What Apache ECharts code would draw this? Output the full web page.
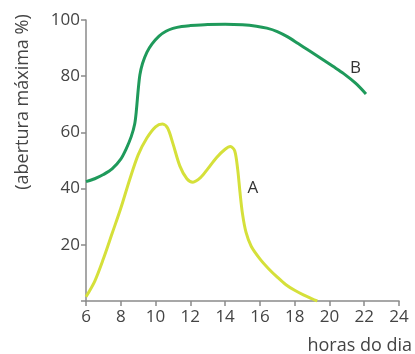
<!DOCTYPE html>
<html>
<head>
<meta charset="utf-8">
<script src="https://cdn.jsdelivr.net/npm/echarts@6/dist/echarts.min.js"></script>
<style>html,body{margin:0;padding:0;background:#fff}#c{width:415px;height:354px}</style>
</head>
<body>
<div id="c"></div>
<script>
// Curve B (green)
const hoursB = [6, 6.5, 7, 7.5, 8, 8.3, 8.6, 8.8, 8.9, 9.0, 9.1, 9.25, 9.5, 9.8, 10.2, 10.6, 11, 11.5, 12, 13, 14, 15, 15.8, 16.4, 17, 17.6, 18.2, 18.8, 19.5, 20.2, 20.8, 21.5, 22.1];
const valuesB = [42.5, 43.5, 45, 47, 50.5, 54, 58.5, 63, 68, 75, 80.5, 84.5, 88.5, 91.5, 94.3, 96, 97, 97.7, 98, 98.4, 98.5, 98.3, 97.8, 97.1, 95.9, 94, 91.6, 89.2, 86.4, 83.5, 81, 77.5, 73.7];
// Curve A (yellow)
const hoursA = [6, 6.5, 7, 7.5, 8, 8.5, 9, 9.5, 10, 10.4, 10.7, 11, 11.4, 11.8, 12.15, 12.6, 13, 13.5, 14, 14.3, 14.55, 14.72, 14.85, 15.0, 15.2, 15.5, 16, 16.5, 17, 17.5, 18, 18.5, 19, 19.3];
const valuesA = [1.5, 7, 15, 24, 33, 43, 52, 58, 62, 63, 61.5, 56, 48, 43.5, 42.3, 44, 47, 51, 54, 55, 53.5, 47, 39, 31, 24.5, 19.5, 15, 11.5, 8.5, 5.8, 3.8, 2.2, 0.8, 0];
const xTicks = [6, 24, 2];
const yTicks = [0, 100, 20];
const labelA = {text: 'A', x: 15.6, y: 40.2};
const labelB = {text: 'B', x: 21.5, y: 82.9};

const font = '"Open Sans", sans-serif';
const chart = echarts.init(document.getElementById('c'), null, {renderer: 'canvas'});
const pairs = (xs, ys) => xs.map((x, i) => [x, ys[i]]);
const mk = (l) => ({
  symbol: 'circle', symbolSize: 0,
  data: [{coord: [l.x, l.y], value: l.text}],
  label: {show: true, position: 'inside', formatter: l.text, color: '#333', fontSize: 17, fontFamily: font}
});
chart.setOption({
  animation: false,
  grid: {left: 86, right: 16, top: 20, bottom: 53, containLabel: false},
  xAxis: {
    type: 'value', min: xTicks[0], max: xTicks[1], interval: xTicks[2],
    axisLine: {show: true, lineStyle: {color: '#8a8a8a', width: 1.5}},
    axisTick: {show: true, length: 5, lineStyle: {color: '#8a8a8a', width: 1.5}},
    axisLabel: {color: '#444', fontSize: 17, fontFamily: font, margin: 8},
    splitLine: {show: false}
  },
  yAxis: {
    type: 'value', min: yTicks[0], max: yTicks[1], interval: yTicks[2],
    axisLine: {show: true, lineStyle: {color: '#8a8a8a', width: 1.5}},
    axisTick: {show: true, length: 5, lineStyle: {color: '#8a8a8a', width: 1.5}},
    axisLabel: {color: '#444', fontSize: 17, fontFamily: font, margin: 6,
      formatter: v => v === 0 ? '' : String(v)},
    splitLine: {show: false}
  },
  graphic: [
    {type: 'text', x: 23, y: 102, rotation: Math.PI / 2,
      style: {text: '(abertura máxima %)', fill: '#444', fontSize: 18, fontFamily: font,
        align: 'center', verticalAlign: 'middle'}},
    {type: 'text', x: 412, y: 346,
      style: {text: 'horas do dia', fill: '#444', fontSize: 18, fontFamily: font,
        align: 'right', verticalAlign: 'middle'}}
  ],
  series: [
    {type: 'line', data: pairs(hoursB, valuesB), smooth: 0.3, showSymbol: false,
      lineStyle: {color: '#1f9a5b', width: 3}, markPoint: mk(labelB), z: 3},
    {type: 'line', data: pairs(hoursA, valuesA), smooth: 0.3, showSymbol: false,
      lineStyle: {color: '#d5e03a', width: 3}, markPoint: mk(labelA), z: 2}
  ]
});
</script>
</body>
</html>
